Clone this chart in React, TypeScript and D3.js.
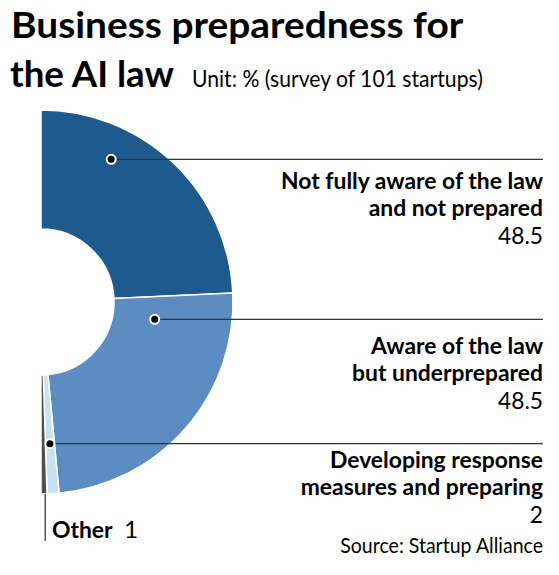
import React from 'react';
import * as d3 from 'd3';

// survey values (%)
const categories = [
  ['Not fully aware of the law', 'and not prepared'],
  ['Aware of the law', 'but underprepared'],
  ['Developing response', 'measures and preparing'],
  ['Other'],
];
const values = [48.5, 48.5, 2, 1];
const valueLabels = ['48.5', '48.5', '2', '1'];
const colors = ['#1f5a8e', '#5b8cc2', '#c9e2f2', '#4f4f4f'];

// where each dot sits inside its slice: share of the slice angle, radius
const dotSpots = [
  { t: 0.3, r: 159, textDy: 30 },
  { t: 0.13, r: 115, textDy: 35 },
  { t: 0.5, r: 142, textDy: 24 },
];

const W = 559;
const H = 575;
const cx = 41;
const cy = 302;
const outerR = 192;
const innerR = 73;
const rightX = 543;
const font = 'Lato, "Open Sans", sans-serif';
const squeeze = 1.04;

function Txt(props: {
  x: number;
  y: number;
  size: number;
  bold?: boolean;
  anchor?: string;
  sx?: number;
  children: React.ReactNode;
}) {
  const { x, y, size, bold, anchor, sx = squeeze, children } = props;
  return (
    <g transform={`translate(${x},${y}) scale(${sx},1)`}>
      <text
        x={0}
        y={0}
        fontFamily={font}
        fontWeight={bold ? 700 : 400}
        fontSize={size}
        textAnchor={anchor || 'start'}
        fill="#000"
      >
        {children}
      </text>
    </g>
  );
}

export default function App() {
  const pie = d3
    .pie<number>()
    .sort(null)
    .startAngle(0)
    .endAngle(Math.PI)
    .value((d) => d);
  const slices = pie(values);

  const arc = d3.arc<d3.PieArcDatum<number>>().innerRadius(innerR).outerRadius(outerR);

  const spot = (a: d3.PieArcDatum<number>, t: number, r: number) => {
    const ang = a.startAngle + t * (a.endAngle - a.startAngle);
    return [cx + r * Math.sin(ang), cy - r * Math.cos(ang)];
  };

  const other = slices[3];
  const [ox, oy] = spot(other, 0.3, outerR);

  return (
    <svg width={W} height={H} style={{ position: 'absolute', left: 0, top: 0 }}>
      <rect width={W} height={H} fill="#fff" />

      {/* Title */}
      <Txt x={11} y={38} size={36} bold sx={1.08}>
        Business preparedness for
      </Txt>
      <Txt x={10} y={87} size={36} bold sx={1.02}>
        the AI law
      </Txt>
      <Txt x={192} y={87} size={22.5} sx={0.94}>
        Unit: % (survey of 101 startups)
      </Txt>

      {/* Slices */}
      <g transform={`translate(${cx},${cy})`}>
        {slices.map((s, i) => (
          <path key={i} d={arc(s) || ''} fill={colors[i]} stroke="#fff" strokeWidth={1.5} />
        ))}
      </g>

      {/* Leaders and labels */}
      {dotSpots.map((d, i) => {
        const [x, y] = spot(slices[i], d.t, d.r);
        const lines = categories[i];
        return (
          <g key={i}>
            <line x1={x} y1={y} x2={rightX} y2={y} stroke="#333" strokeWidth={1.2} />
            <circle cx={x} cy={y} r={4.5} fill="#000" stroke="#fff" strokeWidth={2} />
            {lines.map((l, j) => (
              <Txt key={j} x={rightX} y={y + d.textDy + j * 27} size={22} bold anchor="end">
                {l}
              </Txt>
            ))}
            <Txt
              x={rightX}
              y={y + d.textDy + lines.length * 27 + 1}
              size={23.5}
              anchor="end"
              sx={0.97}
            >
              {valueLabels[i]}
            </Txt>
          </g>
        );
      })}

      {/* Other */}
      <line x1={ox} y1={oy} x2={ox} y2={541} stroke="#333" strokeWidth={1.2} />
      <g transform={`translate(52,538) scale(${squeeze},1)`}>
        <text fontFamily={font} fontSize={22} fill="#000">
          <tspan fontWeight={700}>{categories[3][0]}</tspan>
          <tspan dx={11} fontSize={23.5}>
            {valueLabels[3]}
          </tspan>
        </text>
      </g>

      {/* Source */}
      <Txt x={rightX} y={553} size={21} anchor="end" sx={0.93}>
        Source: Startup Alliance
      </Txt>
    </svg>
  );
}
